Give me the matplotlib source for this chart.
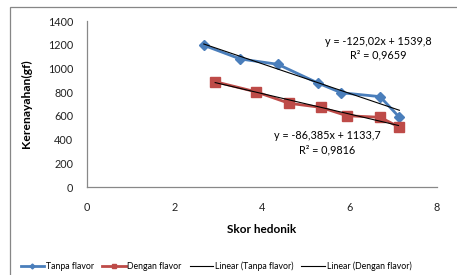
import numpy as np
import matplotlib
matplotlib.use("Agg")
import matplotlib.pyplot as plt
from matplotlib.patches import Rectangle

plt.rcParams['font.family'] = ['Lato', 'DejaVu Sans']

# Data
x_tanpa = [2.67, 3.50, 4.36, 5.29, 5.81, 6.70, 7.14]
y_tanpa = [1195, 1080, 1035, 875, 795, 762, 588]
x_dengan = [2.93, 3.86, 4.62, 5.34, 5.94, 6.70, 7.12]
y_dengan = [888, 803, 706, 672, 601, 588, 508]
fit_tanpa = (-125.02, 1539.8)
fit_dengan = (-86.385, 1133.7)
eq_tanpa = ["y = -125,02x + 1539,8", "R² = 0,9659"]
eq_dengan = ["y = -86,385x + 1133,7", "R² = 0,9816"]
labels = ["Tanpa flavor", "Dengan flavor", "Linear (Tanpa flavor)", "Linear (Dengan flavor)"]
xticks = [0, 2, 4, 6, 8]
yticks = [0, 200, 400, 600, 800, 1000, 1200, 1400]

fig = plt.figure(figsize=(4.57, 2.75), dpi=100)
fig.patches.append(Rectangle((10/457, -0.1), 1.2, 1 - 7/275 + 0.1, transform=fig.transFigure,
                             fill=False, edgecolor='#868686', linewidth=0.9))
ax = fig.add_axes([87/457, 1 - 187/275, 350/457, 166/275])

blue = '#4A7EBB'
red = '#BE4B48'
l1, = ax.plot(x_tanpa, y_tanpa, color=blue, lw=2, marker='D', ms=5, label=labels[0])
l2, = ax.plot(x_dengan, y_dengan, color=red, lw=2, marker='s', ms=6.5, label=labels[1])
xt = np.array([min(x_tanpa), max(x_tanpa)])
xd = np.array([min(x_dengan), max(x_dengan)])
l3, = ax.plot(xt, fit_tanpa[0]*xt + fit_tanpa[1], color='black', lw=0.8, label=labels[2])
l4, = ax.plot(xd, fit_dengan[0]*xd + fit_dengan[1], color='black', lw=0.8, label=labels[3])

ax.set_xlim(0, 8)
ax.set_ylim(0, 1400)
ax.set_xticks(xticks)
ax.set_yticks(yticks)
ax.tick_params(length=0, labelsize=7.8, colors='#222222')
ax.tick_params(axis='y', pad=10)
ax.tick_params(axis='x', pad=11)
for s in ['top', 'right']:
    ax.spines[s].set_visible(False)
for s in ['left', 'bottom']:
    ax.spines[s].set_color('#888888')
    ax.spines[s].set_linewidth(0.9)

ax.set_xlabel("Skor hedonik", fontsize=8.5, fontweight='bold', labelpad=8)
ax.set_ylabel("Kerenayahan(gf)", fontsize=8.7, fontweight='bold', labelpad=11)

ax.text(6.65, 1223, eq_tanpa[0], fontsize=7.8, ha='center', va='center')
ax.text(6.65, 1113, eq_tanpa[1], fontsize=7.8, ha='center', va='center')
ax.text(5.49, 438, eq_dengan[0], fontsize=7.8, ha='center', va='center')
ax.text(5.49, 312, eq_dengan[1], fontsize=7.8, ha='center', va='center')

fig.legend(handles=[l1, l2, l3, l4], loc='center', bbox_to_anchor=(216/457, 1 - 266/275),
           ncol=4, frameon=False, fontsize=6.3, handlelength=2.7, handletextpad=0.2,
           columnspacing=0.9, markerscale=0.5)

fig.savefig("out.png", dpi=100)
